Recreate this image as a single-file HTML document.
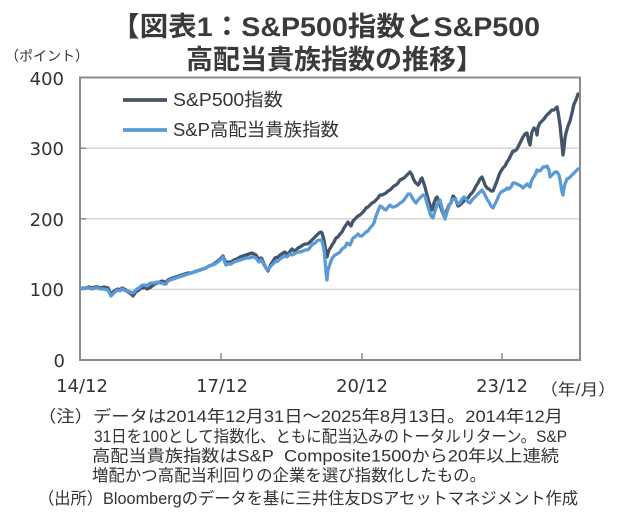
<!DOCTYPE html>
<html>
<head>
<meta charset="utf-8">
<style>
  html, body { margin: 0; padding: 0; background: #ffffff; }
  body { width: 628px; height: 520px; overflow: hidden; }
  svg { display: block; }
  .jp { font-family: "Liberation Sans", "Noto Sans CJK JP", sans-serif; }
  .ax { font-family: "DejaVu Sans", "Liberation Sans", sans-serif; }
</style>
</head>
<body>
<svg width="628" height="520" viewBox="0 0 628 520" xmlns="http://www.w3.org/2000/svg">
  <rect x="0" y="0" width="628" height="520" fill="#ffffff"/>

  <!-- Title -->
  <text class="jp" x="111" y="36" font-size="27" font-weight="bold" fill="#3a3a3a" textLength="429" lengthAdjust="spacingAndGlyphs">【図表1：S&amp;P500指数とS&amp;P500</text>
  <text class="jp" x="186" y="69" font-size="27" font-weight="bold" fill="#3a3a3a" textLength="297" lengthAdjust="spacingAndGlyphs">高配当貴族指数の推移】</text>

  <!-- Y axis unit -->
  <text class="jp" x="5" y="61" font-size="14" fill="#333" textLength="84" lengthAdjust="spacingAndGlyphs">（ポイント）</text>

  <!-- gridlines -->
  <g stroke="#d6d6d6" stroke-width="1.5">
    <line x1="80" y1="148.2" x2="580" y2="148.2"/>
    <line x1="80" y1="218.8" x2="580" y2="218.8"/>
    <line x1="80" y1="289.4" x2="580" y2="289.4"/>
  </g>
  <!-- ticks -->
  <g stroke="#8a8a8a" stroke-width="1.5">
    <line x1="80" y1="148.2" x2="86" y2="148.2"/>
    <line x1="80" y1="218.8" x2="86" y2="218.8"/>
    <line x1="80" y1="289.4" x2="86" y2="289.4"/>
    <line x1="221" y1="353" x2="221" y2="360"/>
    <line x1="362" y1="353" x2="362" y2="360"/>
    <line x1="502" y1="353" x2="502" y2="360"/>
  </g>

  <!-- Y labels -->
  <g class="ax" font-size="18" fill="#333" text-anchor="end">
    <text x="64" y="85">400</text>
    <text x="64" y="155">300</text>
    <text x="64" y="226">200</text>
    <text x="64" y="296">100</text>
    <text x="65" y="367">0</text>
  </g>
  <!-- X labels -->
  <g class="ax" font-size="18" fill="#333" text-anchor="middle">
    <text x="82" y="392">14/12</text>
    <text x="222" y="392">17/12</text>
    <text x="362" y="392">20/12</text>
    <text x="502" y="392">23/12</text>
  </g>
  <text class="jp" x="540" y="395" font-size="16" fill="#333" textLength="76" lengthAdjust="spacingAndGlyphs">（年/月）</text>

  <!-- S&P500 series (dark) -->
  <polyline fill="none" stroke="#44546a" stroke-width="3.3" stroke-linejoin="round" points="
80,289 83,288 86,288 89,287 92,288 95,287 98,287 101,288 104,287 108,288 110,292 111,294 113,292 116,290 118,289 120,290 122,288 124,289 126,290 128,292 130,293 133,296 135,293 137,291 139,290 141,288 143,288 145,287 147,289 149,288 151,287 152,286 155,284 157,283 160,282 162,281 164,282 166,282 168,280 170,279 173,278 176,277 179,276 182,275 185,274 188,273 191,273 194,272 197,271 200,270 203,269 206,268 209,266 212,265 215,263 218,261 221,258 223,256 225,261 226,263 228,262 231,262 234,260 237,259 240,257 243,256 246,255 249,254 252,253 254,254 256,255 258,258 259,260 261,258 262,259 264,264 266,268 268,271 270,266 271,264 273,261 275,258 278,257 280,255 283,253 285,252 287,254 289,253 291,250 292,249 294,251 296,250 298,248 300,247 303,245 305,244 307,244 309,243 311,241 313,239 315,237 317,235 319,233 321,232 322,233 324,240 325,246 326,252 327,257 328,253 329,250 331,247 332,245 334,242 336,238 338,237 340,234 342,232 344,228 346,225 348,222 350,225 351,226 353,221 354,220 356,218 358,216 360,215 362,213 364,211 366,208 368,207 370,205 372,203 374,202 376,200 378,198 380,195 382,195 384,194 386,193 388,191 390,190 392,188 394,186 396,185 398,183 400,180 402,179 404,178 406,176 408,174 410,172 412,175 413,178 415,182 416,183 418,185 419,184 421,179 422,178 424,184 425,187 427,195 429,202 431,208 432,210 434,203 436,198 437,197 439,202 440,205 442,211 444,216 445,214 447,210 449,205 451,203 453,196 455,198 457,203 458,206 460,205 462,203 464,201 466,199 468,198 470,195 472,193 474,190 476,186 478,183 480,179 482,177 484,182 485,185 487,188 489,189 491,191 493,191 495,186 497,181 499,175 501,171 503,168 505,166 507,162 509,159 511,155 513,151 515,151 517,149 519,145 521,141 523,137 525,134 527,133 529,142 530,145 531,138 532,132 534,128 536,130 537,135 538,127 540,123 542,121 544,119 546,116 548,114 550,112 552,110 554,110 556,108 557,107 558,112 559,118 560,125 561,135 562,145 563,155 564,148 565,138 566,133 568,126 570,121 572,113 574,104 576,100 577,97 578,94 579,93"/>

  <!-- High dividend aristocrats series (light) -->
  <polyline fill="none" stroke="#5b9bd5" stroke-width="3.3" stroke-linejoin="round" points="
80,289 83,288 86,288 89,288 92,289 95,288 98,288 101,289 104,289 108,290 110,294 111,296 113,294 116,291 118,290 120,291 122,289 124,290 126,291 128,291 130,292 133,293 135,291 137,289 139,288 141,286 143,285 145,285 147,286 149,284 151,283 152,283 155,283 157,282 160,283 162,283 164,284 166,284 168,281 170,280 173,279 176,278 179,277 182,276 185,275 188,274 191,273 194,272 197,271 200,270 203,269 206,268 209,266 212,265 215,264 218,262 221,259 223,257 225,263 226,265 228,264 231,264 234,262 237,261 240,260 243,259 246,258 249,258 252,257 254,257 256,258 258,261 259,262 261,260 262,261 264,265 266,268 268,270 270,267 271,266 273,264 275,262 278,261 280,259 283,257 285,256 287,257 289,255 291,254 292,255 294,254 296,253 298,252 300,252 303,251 305,250 307,250 309,249 311,246 313,244 315,243 317,241 319,240 321,240 322,241 324,250 325,260 326,272 327,280 328,270 330,264 331,261 333,257 335,255 337,254 340,252 342,249 345,247 347,243 350,245 351,243 353,238 355,237 357,235 358,234 360,236 362,236 364,234 366,232 368,231 370,228 372,226 374,223 376,216 378,211 380,206 382,207 384,209 386,210 388,207 390,205 392,207 394,207 396,206 398,205 400,203 402,202 404,200 406,197 408,194 410,194 412,197 413,199 415,202 416,203 418,200 419,199 421,197 423,195 425,196 427,203 429,210 431,216 433,218 434,214 436,208 437,205 439,201 440,200 442,208 444,216 445,219 447,212 449,206 451,202 453,199 455,199 457,202 458,204 460,203 462,199 464,197 466,199 468,202 470,203 472,200 474,198 476,196 478,194 480,192 482,190 484,193 485,195 487,199 489,202 491,206 493,208 495,204 497,200 499,195 501,192 503,191 505,190 507,188 509,189 511,187 513,183 515,183 517,184 519,185 521,186 523,188 525,186 527,184 529,186 530,187 531,182 533,178 535,175 537,170 539,171 541,170 543,167 545,167 547,166 549,170 550,177 551,176 553,174 555,172 557,172 559,175 560,180 561,186 562,192 563,195 564,188 565,184 567,179 569,178 571,176 573,174 575,172 577,170 579,168"/>

  <!-- plot frame -->
  <rect x="80" y="77.5" width="500" height="282.5" fill="none" stroke="#8a8a8a" stroke-width="2"/>

  <!-- Legend -->
  <line x1="123" y1="100" x2="167" y2="100" stroke="#44546a" stroke-width="3.8"/>
  <text class="jp" x="173" y="106" font-size="18" fill="#333" textLength="110" lengthAdjust="spacingAndGlyphs">S&amp;P500指数</text>
  <line x1="123" y1="130" x2="167" y2="130" stroke="#5b9bd5" stroke-width="3.8"/>
  <text class="jp" x="173" y="136" font-size="18" fill="#333" textLength="166" lengthAdjust="spacingAndGlyphs">S&amp;P高配当貴族指数</text>

  <!-- Notes -->
  <g class="jp" font-size="16.5" fill="#333">
    <text x="38" y="422" textLength="525" lengthAdjust="spacingAndGlyphs">（注）データは2014年12月31日～2025年8月13日。2014年12月</text>
    <text x="94" y="442" textLength="473" lengthAdjust="spacingAndGlyphs">31日を100として指数化、ともに配当込みのトータルリターン。S&amp;P</text>
    <text x="92" y="461.5" textLength="467" lengthAdjust="spacingAndGlyphs">高配当貴族指数はS&amp;P&#160; Composite1500から20年以上連続</text>
    <text x="92" y="481" textLength="394" lengthAdjust="spacingAndGlyphs">増配かつ高配当利回りの企業を選び指数化したもの。</text>
    <text x="38" y="504" textLength="540" lengthAdjust="spacingAndGlyphs">（出所）Bloombergのデータを基に三井住友DSアセットマネジメント作成</text>
  </g>
</svg>
</body>
</html>
